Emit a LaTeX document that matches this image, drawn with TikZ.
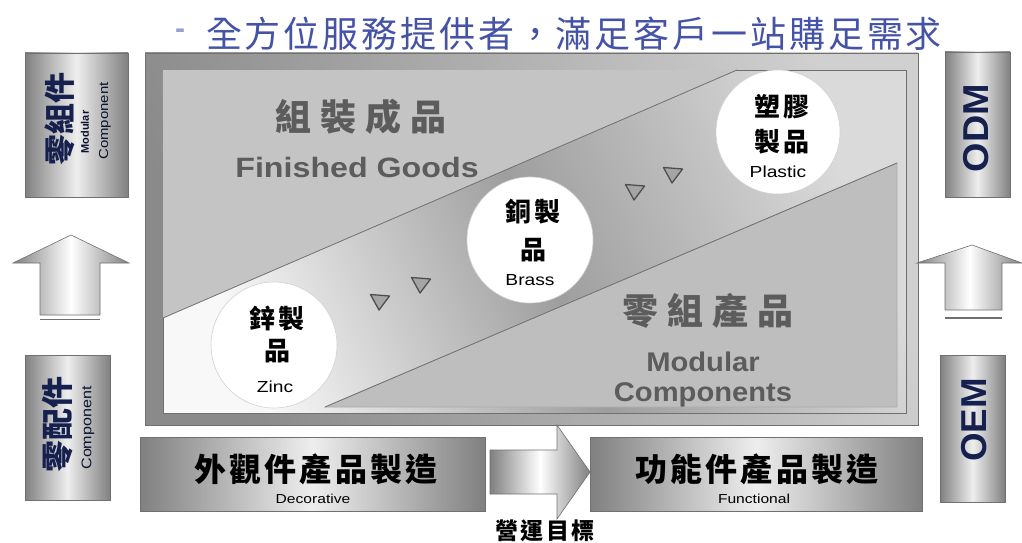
\documentclass[tikz,border=0pt]{standalone}
\usepackage{fontspec}
\setmainfont{Liberation Sans}
\newfontfamily\cjk{Noto Sans CJK TC}
\usetikzlibrary{shapes.geometric}
\definecolor{titleblue}{RGB}{68,82,168}
\definecolor{dashblue}{RGB}{150,160,205}
\definecolor{navy}{RGB}{22,32,78}
\definecolor{boxdark}{RGB}{128,128,128}
\definecolor{boxlight}{RGB}{238,238,238}
\definecolor{framedark}{RGB}{138,138,138}
\definecolor{framelight}{RGB}{208,208,208}
\definecolor{bandlight}{RGB}{248,248,248}
\definecolor{banddark}{RGB}{158,158,158}
\definecolor{bandright}{RGB}{218,218,218}
\definecolor{fgfill}{RGB}{196,196,196}
\definecolor{mcfill}{RGB}{190,190,190}
\definecolor{embtext}{RGB}{92,92,92}
\definecolor{edge}{RGB}{112,112,112}
\definecolor{trifill}{RGB}{165,165,165}
\definecolor{tridraw}{RGB}{78,78,78}
\newcommand\cjksz[1]{\cjk\fontsize{#1}{#1}\selectfont}
\newcommand\lsz[1]{\fontsize{#1}{#1}\selectfont}
\tikzset{
  sidebox/.style={rectangle, draw=edge, line width=0.6pt, left color=boxdark, right color=boxdark, middle color=boxlight, inner sep=0pt},
  disc/.style={circle, fill=white, draw=gray!35, line width=0.6pt, inner sep=0pt, minimum size=126pt},
  disccjk/.style={font={\cjksz{26}\bfseries\addfontfeatures{LetterSpace=12}}, text=black, inner sep=0pt},
  discen/.style={font=\lsz{16}, text=black, inner sep=0pt},
  marker/.style={fill=trifill, draw=tridraw, line width=1.3pt, line join=round},
  bigcjk/.style={font={\cjksz{36}\bfseries\addfontfeatures{LetterSpace=25}}, text=embtext, inner sep=0pt},
  bigen/.style={font={\bfseries\lsz{28}}, text=embtext, inner sep=0pt},
  sidecjk/.style={font={\cjksz{31}\bfseries}, text=navy, rotate=90, inner sep=0pt},
  sideen/.style={text=navy!60!black, rotate=90, inner sep=0pt},
  blockarrow/.style={draw=edge, line width=0.6pt, left color=boxdark, right color=boxdark, middle color=white},
}
\newcommand\marktri[2]{\path[marker, shift={(#1,#2)}] (-9.5,-5.5) -- (9.5,-4) -- (-1,10) -- cycle;}
\begin{document}
\begin{tikzpicture}[x=1pt,y=-1pt]
\useasboundingbox (0,0) rectangle (1022,543);
\fill[white] (0,0) rectangle (1022,543);

% title
\node[text=dashblue, font=\bfseries\lsz{30}, inner sep=0pt] (dash) at (180,34) {-};
\node[text=titleblue, font={\cjksz{36}\addfontfeatures{LetterSpace=8}}, inner sep=0pt] (title) at (574,34) {全方位服務提供者，滿足客戶一站購足需求};

% main frame
\path[draw=edge, line width=0.6pt, left color=framedark, right color=framelight, shading angle=110] (145,53) rectangle (918,425);
\path[draw=edge, line width=0.6pt, left color=bandlight, right color=bandright, middle color=banddark, shading angle=113] (163,70) rectangle (906,413);
\fill[fgfill] (163,70) -- (737,70) -- (163,318) -- cycle;
\draw[edge, line width=0.8pt] (737,70) -- (163,318);
\path[fill=mcfill, draw=gray!65, line width=0.6pt] (325,407) -- (897,163) -- (897,407) -- cycle;
\draw[edge, line width=0.8pt] (325,407) -- (897,163);

% region labels
\node[bigcjk] (fgcn) at (361,117) {組裝成品};
\node[bigen] (fgen) at (357,167) {\scalebox{1.15}[1]{Finished Goods}};
\node[bigcjk] (mccn) at (708,311) {零組產品};
\node[bigen, font={\bfseries\lsz{27}}] (mcen1) at (703,362) {\scalebox{1.08}[1]{Modular}};
\node[bigen, font={\bfseries\lsz{27}}] (mcen2) at (703,395) {\scalebox{1.08}[1]{Components}};

% triangles
\marktri{380}{300}
\marktri{421}{283}
\marktri{635}{190}
\marktri{673}{173}

% circles
\node[disc] (zinc) at (274,345) {};
\node[disccjk] (zinc1) at (277,319) {鋅製};
\node[disccjk] (zinc2) at (277,351) {品};
\node[discen] (zinc3) at (275,387) {\scalebox{1.2}[1]{Zinc}};

\node[disc] (brass) at (530,240) {};
\node[disccjk] (brass1) at (533,212) {銅製};
\node[disccjk] (brass2) at (533,250) {品};
\node[discen] (brass3) at (530,280) {\scalebox{1.2}[1]{Brass}};

\node[disc, minimum size=124pt] (plastic) at (778,132) {};
\node[disccjk] (plastic1) at (782,107) {塑膠};
\node[disccjk] (plastic2) at (782,142) {製品};
\node[discen] (plastic3) at (778,172) {\scalebox{1.2}[1]{Plastic}};

% side boxes left
\node[sidebox, minimum width=103pt, minimum height=144pt] (modbox) at (76.5,125) {};
\node[sidecjk] (modcn) at (60,119) {零組件};
\node[sideen, font=\bfseries\lsz{11}] (moden1) at (85,132) {Modular};
\node[sideen, font=\lsz{13}] (moden2) at (105,121) {\scalebox{1.15}[1]{Component}};

\path[blockarrow] (40,315) -- (40,263) -- (13,263) -- (71,235) -- (129,263) -- (100,263) -- (100,315) -- cycle;
\draw[edge, line width=1.5pt] (40,319.5) -- (100,319.5);

\node[sidebox, minimum width=85pt, minimum height=145pt] (compbox) at (67.5,427.5) {};
\node[sidecjk, font={\cjksz{32}\bfseries}] (compcn) at (58,424) {零配件};
\node[sideen, font=\lsz{14}] (compen) at (88,428) {\scalebox{1.15}[1]{Component}};

% side boxes right
\node[sidebox, minimum width=65pt, minimum height=145pt] (odmbox) at (977.5,124.5) {};
\node[sideen, text=navy, font=\bfseries\lsz{36}] (odm) at (976,128) {\scalebox{1.05}[1]{ODM}};

\path[blockarrow] (945,310) -- (945,263) -- (917,263) -- (972,245) -- (1022,263) -- (1002,263) -- (1002,310) -- cycle;
\draw[edge, line width=1.5pt] (945,318) -- (1002,318);

\node[sidebox, minimum width=65pt, minimum height=147pt] (oembox) at (972.5,428.5) {};
\node[sideen, text=navy, font=\bfseries\lsz{36}] (oem) at (974,420) {\scalebox{1.02}[1]{OEM}};

% bottom boxes
\node[sidebox, minimum width=345pt, minimum height=74pt] (deco) at (312.5,474) {};
\node[inner sep=0pt, font={\cjksz{32}\bfseries\addfontfeatures{LetterSpace=10}}] (decocn) at (316,469) {外觀件產品製造};
\node[inner sep=0pt, font=\lsz{13}] (decoen) at (313,499) {\scalebox{1.2}[1]{Decorative}};

\path[blockarrow] (490,450) -- (557,450) -- (557,425) -- (590,472) -- (557,519) -- (557,494) -- (490,494) -- cycle;

\node[sidebox, minimum width=332pt, minimum height=74pt] (func) at (756,474) {};
\node[inner sep=0pt, font={\cjksz{32}\bfseries\addfontfeatures{LetterSpace=10}}] (funccn) at (757,469) {功能件產品製造};
\node[inner sep=0pt, font=\lsz{13}] (funcen) at (754,499) {\scalebox{1.2}[1]{Functional}};

\node[inner sep=0pt, font={\cjksz{23}\bfseries\addfontfeatures{LetterSpace=9}}] (goal) at (545,531) {營運目標};
\end{tikzpicture}
\end{document}
